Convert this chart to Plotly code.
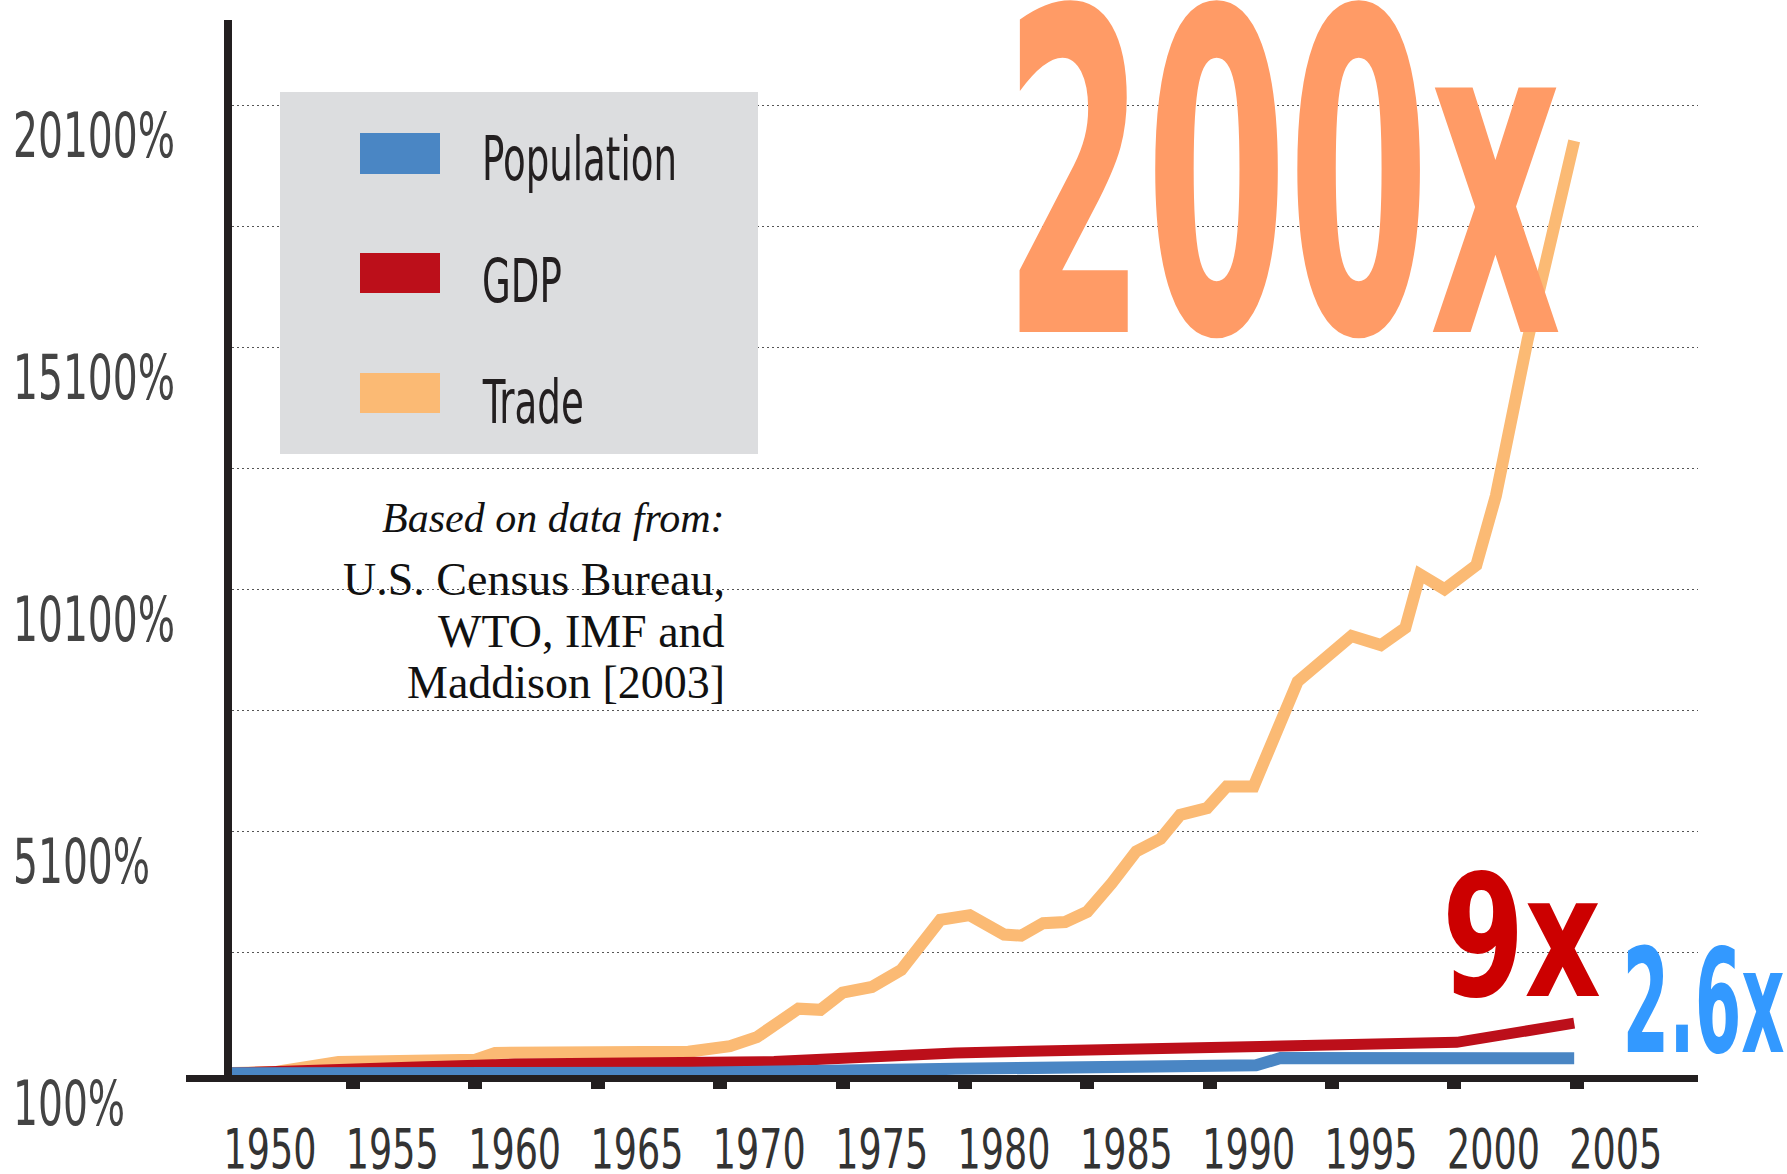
import json
import plotly.graph_objects as go

# ---------------- data ----------------
TRADE_YEARS = [1948.3, 1950.3, 1952.8, 1958.4, 1959.2, 1963.0, 1967.1, 1968.8, 1969.9, 1971.6,
               1972.5, 1973.4, 1974.6, 1975.8, 1977.4, 1978.6, 1980.0, 1980.7, 1981.6, 1982.5,
               1983.4, 1984.4, 1985.4, 1986.4, 1987.2, 1988.3, 1989.1, 1990.2, 1992.0, 1994.2,
               1995.4, 1996.4, 1997.0, 1998.0, 1999.3, 2000.1, 2000.8, 2001.4, 2003.3]
TRADE = [100, 130, 330, 380, 520, 545, 545, 660, 846, 1435,
         1411, 1765, 1883, 2237, 3274, 3368, 2968, 2944, 3203, 3226,
         3438, 4027, 4687, 4947, 5442, 5583, 6031, 6031, 8199, 9142,
         8953, 9307, 10414, 10108, 10603, 12040, 13666, 15269, 19381]

GDP_YEARS = [1948.3, 1952, 1956, 1960, 1966, 1970.6, 1978, 1985.3, 1990.5, 1991.5, 1998.5, 2003.3]
GDP = [100, 140, 230, 290, 310, 340, 520, 585, 650, 690, 739, 1135]

POP_YEARS = [1948.3, 1967.2, 1978, 1985.3, 1990.3, 1991.3, 2003.3]
POP = [100, 110, 190, 222, 265, 414, 410]

X_TICK_VALUES = [1950, 1955, 1960, 1965, 1970, 1975, 1980, 1985, 1990, 1995, 2000, 2005]
X_TICK_LABELS = [str(v) for v in X_TICK_VALUES]
X_DOT_VALUES = [1953.4, 1958.4, 1963.4, 1968.4, 1973.4, 1978.4, 1983.4, 1988.4, 1993.4, 1998.4, 2003.4]

Y_GRID_VALUES = [2600, 5100, 7600, 10100, 12600, 15100, 17600, 20100]
Y_LABEL_VALUES = [100, 5100, 10100, 15100, 20100]
Y_LABELS = ["100%", "5100%", "10100%", "15100%", "20100%"]

SERIES_NAMES = ["Population", "GDP", "Trade"]
SERIES_COLORS = ["#4A86C4", "#BC0F1A", "#FBBA74"]

SOURCE_LINES = ["<i>Based on data from:</i>", "U.S. Census Bureau,", "WTO, IMF and", "Maddison [2003]"]
BIG_LABELS = ["200x", "9x", "2.6x"]

# ---------------- figure ----------------
W, H = 1787, 1174
ML, MR, MT, MB = 232, 89, 20, 99
PW, PH = W - ML - MR, H - MT - MB

def px(x):
    return (x - ML) / PW

def py(y):
    return (H - MB - y) / PH

NARROW = "Liberation Sans Narrow, DejaVu Sans Condensed, Arial Narrow, sans-serif"
SERIF = "Liberation Serif, DejaVu Serif, serif"
AXIS_COLOR = "#231F20"

fig = go.Figure()
fig.add_trace(go.Scatter(x=TRADE_YEARS, y=TRADE, mode="lines", name=SERIES_NAMES[2],
                         line=dict(color=SERIES_COLORS[2], width=12), showlegend=False))
fig.add_trace(go.Scatter(x=GDP_YEARS, y=GDP, mode="lines", name=SERIES_NAMES[1],
                         line=dict(color=SERIES_COLORS[1], width=11), showlegend=False))
fig.add_trace(go.Scatter(x=POP_YEARS, y=POP, mode="lines", name=SERIES_NAMES[0],
                         line=dict(color=SERIES_COLORS[0], width=12), showlegend=False))

shapes = []
annotations = []

# x-axis line extension to the left of the y axis
shapes.append(dict(type="line", xref="paper", yref="paper", ysizemode="pixel", yanchor=0,
                   x0=px(186), x1=0, y0=-3.5, y1=-3.5,
                   line=dict(color=AXIS_COLOR, width=7), layer="above"))

# legend box
shapes.append(dict(type="rect", xref="paper", yref="paper",
                   x0=px(280), x1=px(758), y0=py(454), y1=py(92),
                   fillcolor="#DCDDDF", line=dict(width=0), layer="above"))
swatch_rows = [(133, 174, 159.5), (253, 293, 281.5), (373, 413, 402)]
for (top, bot, mid), name, col in zip(swatch_rows, SERIES_NAMES, SERIES_COLORS):
    shapes.append(dict(type="rect", xref="paper", yref="paper",
                       x0=px(360), x1=px(440), y0=py(bot), y1=py(top),
                       fillcolor=col, line=dict(width=0), layer="above"))
    annotations.append(dict(text=name, xref="paper", yref="paper", x=px(480), y=py(mid),
                            xanchor="left", yanchor="middle", showarrow=False,
                            font=dict(family=NARROW, size=60, color="#231F20")))

# source note
for i, (line, mid) in enumerate(zip(SOURCE_LINES, [518, 580, 631, 682])):
    annotations.append(dict(text=line, xref="paper", yref="paper", x=px(727), y=py(mid),
                            xanchor="right", yanchor="middle", showarrow=False,
                            font=dict(family=SERIF, size=42 if i == 0 else 46, color="#111111")))

# y labels (sit below their grid lines, as in the original)
for v, t in zip(Y_LABEL_VALUES, Y_LABELS):
    annotations.append(dict(text=t, xref="paper", yref="y", x=px(11), y=v, yshift=-30,
                            xanchor="left", yanchor="middle", showarrow=False,
                            font=dict(family=NARROW, size=62, color="#444444")))

# big multipliers
big_specs = [
    (BIG_LABELS[0], 1282, 177, 447, "#FF9B66"),
    (BIG_LABELS[1], 1521.5, 937, 170, "#CC0000"),
    (BIG_LABELS[2], 1703, 1001.5, 144, "#3399FF"),
]
for t, cx, cy, size, col in big_specs:
    annotations.append(dict(text="<b>%s</b>" % t, xref="paper", yref="paper", x=px(cx), y=py(cy),
                            xanchor="center", yanchor="middle", showarrow=False,
                            font=dict(family=NARROW, size=size, color=col)))

fig.update_layout(
    width=W, height=H,
    margin=dict(l=ML, r=MR, t=MT, b=MB, pad=0),
    paper_bgcolor="white", plot_bgcolor="white",
    showlegend=False,
    shapes=shapes, annotations=annotations,
    xaxis=dict(range=[1948.45, 2008.36], tickmode="array", tickvals=X_TICK_VALUES,
               ticktext=X_TICK_LABELS, ticks="", showgrid=False, zeroline=False,
               showline=True, linewidth=7, linecolor=AXIS_COLOR, automargin=False,
               tickangle=0,
               tickfont=dict(family=NARROW, size=55, color="#333333"),
               ticklabelstandoff=20,
               minor=dict(tickmode="array", tickvals=X_DOT_VALUES, ticks="outside",
                          ticklen=7, tickwidth=14, tickcolor=AXIS_COLOR, showgrid=False)),
    yaxis=dict(range=[63, 21878], tickmode="array", tickvals=Y_GRID_VALUES,
               showticklabels=False, ticks="", showgrid=True, gridcolor="#555555",
               griddash="2px,3px", gridwidth=1.4, zeroline=False, automargin=False,
               showline=True, linewidth=8, linecolor=AXIS_COLOR),
)

# horizontal condensing of text, to mimic the condensed typeface of the original
# [text to measure, target width in px, anchor, texts it applies to]
squeeze_specs = [
    ["200x", 558, "center", ["200x"]],
    ["9x", 159, "center", ["9x"]],
    ["2.6x", 162, "center", ["2.6x"]],
    ["Population", 195, "left", SERIES_NAMES],
    ["20100%", 162, "left", Y_LABELS],
    ["1950", 93, "center", X_TICK_LABELS],
]

post = """
document.body.style.margin = '0';
var gd = document.getElementById('{plot_id}');
var specs = SPECS;
function sq(t, sx, ox) {
  var b = t.getBBox();
  var cx = ox === 'left' ? b.x : (ox === 'right' ? b.x + b.width : b.x + b.width / 2);
  var cy = b.y + b.height / 2;
  var old = t.getAttribute('transform') || '';
  t.setAttribute('transform', old + ' translate(' + cx + ' ' + cy + ') scale(' + sx + ' 1) translate(' + (-cx) + ' ' + (-cy) + ')');
}
var texts = Array.prototype.slice.call(gd.querySelectorAll('text.annotation-text, g.xtick text'));
specs.forEach(function (s) {
  var ref = texts.filter(function (t) { return t.textContent === s[0]; })[0];
  if (!ref) return;
  var w = ref.getBBox().width;
  if (!(w > 0)) return;
  var f = Math.min(1, s[1] / w);
  texts.forEach(function (t) {
    if (s[3].indexOf(t.textContent) >= 0) sq(t, f, s[2]);
  });
});
""".replace("SPECS", json.dumps(squeeze_specs))

fig.write_html("out.html", config={"displayModeBar": False}, post_script=post)
